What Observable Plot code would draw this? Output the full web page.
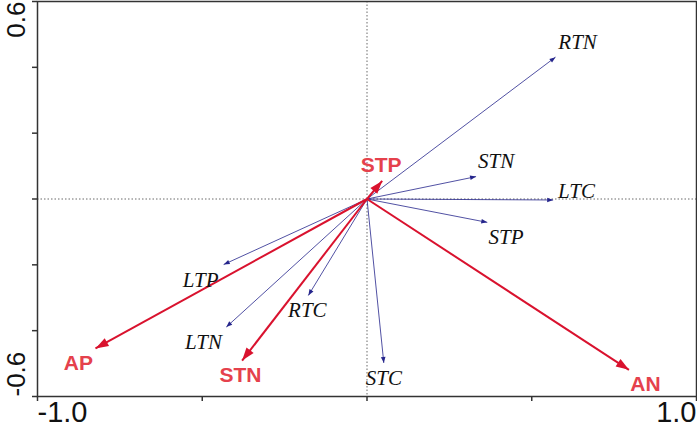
<!DOCTYPE html>
<html><head><meta charset="utf-8">
<script src="https://cdn.jsdelivr.net/npm/d3@7"></script>
<script src="https://cdn.jsdelivr.net/npm/@observablehq/plot@0.6"></script>
<style>body{margin:0;background:#fff;} svg{display:block;}</style>
</head><body><div id="chart"></div>
<script>
// Species (response) arrows
const speciesNames = ["RTN","STN","LTC","STP","LTP","RTC","LTN","STC"];
const speciesX = [0.572, 0.331, 0.565, 0.365, -0.435, -0.178, -0.427, 0.051];
const speciesY = [0.431, 0.068, -0.003, -0.071, -0.199, -0.293, -0.389, -0.498];
const speciesLabelX = [0.639, 0.392, 0.636, 0.422, -0.505, -0.181, -0.496, 0.051];
const speciesLabelY = [0.476, 0.114, 0.022, -0.115, -0.247, -0.338, -0.435, -0.544];
// Environmental arrows
const envNames = ["STP","AP","STN","AN"];
const envX = [0.046, -0.824, -0.379, 0.795];
const envY = [0.055, -0.454, -0.491, -0.519];
const envLabelX = [0.043, -0.876, -0.384, 0.845];
const envLabelY = [0.104, -0.499, -0.535, -0.562];
// Axes
const xTicks = [-1, -0.5, 0, 0.5, 1];
const yTicks = [-0.6, -0.4, -0.2, 0, 0.2, 0.4, 0.6];
const xLabelValues = [-1, 1];
const xLabelTexts = ["-1.0", "1.0"];
const yLabelValues = [-0.6, 0.6];
const yLabelTexts = ["-0.6", "0.6"];

const BLUE = "#25258c";
const RED = "#d9122e";
const RED_TEXT = "#e5414c";

const species = speciesNames.map((n, i) => ({name: n, x: speciesX[i], y: speciesY[i], lx: speciesLabelX[i], ly: speciesLabelY[i]}));
const env = envNames.map((n, i) => ({name: n, x: envX[i], y: envY[i], lx: envLabelX[i], ly: envLabelY[i]}));
const xLabels = xLabelValues.map((v, i) => ({v, t: xLabelTexts[i]}));
const yLabels = yLabelValues.map((v, i) => ({v, t: yLabelTexts[i]}));

const triangle = {
  draw(ctx, l, r) {
    ctx.moveTo(0, -l);
    ctx.lineTo(-r, 0);
    ctx.lineTo(r, 0);
    ctx.closePath();
  }
};
const angle = d => Math.atan2(d.x, d.y) * 180 / Math.PI;
const SANS = "'Liberation Sans', Arial, sans-serif";

const chart = Plot.plot({
  width: 697,
  height: 433,
  marginTop: 1,
  marginLeft: 37,
  marginRight: 1,
  marginBottom: 37,
  x: {domain: [-1, 1]},
  y: {domain: [-0.6, 0.6]},
  style: {background: "#fff"},
  marks: [
    Plot.ruleX([0], {stroke: "#444", strokeWidth: 0.8, strokeDasharray: "1.5,2"}),
    Plot.ruleY([0], {stroke: "#444", strokeWidth: 0.8, strokeDasharray: "1.5,2"}),
    Plot.link(species, {x1: () => 0, y1: () => 0, x2: "x", y2: "y", stroke: BLUE, strokeWidth: 0.8}),
    Plot.vector(species, {x: "x", y: "y", rotate: angle, length: 6, r: 2.3, anchor: "end", shape: triangle, fill: BLUE, stroke: "none"}),
    Plot.link(env, {x1: () => 0, y1: () => 0, x2: "x", y2: "y", stroke: RED, strokeWidth: 2}),
    Plot.vector(env, {x: "x", y: "y", rotate: angle, length: 13, r: 4.5, anchor: "end", shape: triangle, fill: RED, stroke: "none"}),
    Plot.text(species, {x: "lx", y: "ly", text: "name", fontFamily: "'Liberation Serif', 'Times New Roman', serif", fontStyle: "italic", fontSize: 21, fill: "#111"}),
    Plot.text(env, {x: "lx", y: "ly", text: "name", fontFamily: SANS, fontWeight: "bold", fontSize: 21, fill: RED_TEXT}),
    Plot.axisX(xTicks, {tickSize: 5, tickFormat: () => "", stroke: "#333", strokeWidth: 1.5}),
    Plot.axisY(yTicks, {tickSize: 5, tickFormat: () => "", stroke: "#333", strokeWidth: 1.5}),
    Plot.text(xLabels.filter(d => d.v < 0), {x: "v", text: "t", frameAnchor: "bottom", dy: 25, textAnchor: "start", fontFamily: SANS, fontSize: 29, fill: "#111"}),
    Plot.text(xLabels.filter(d => d.v > 0), {x: "v", text: "t", frameAnchor: "bottom", dy: 25, textAnchor: "end", fontFamily: SANS, fontSize: 29, fill: "#111"}),
    Plot.text(yLabels.filter(d => d.v < 0), {y: "v", text: "t", frameAnchor: "left", dx: -21, rotate: -90, textAnchor: "start", fontFamily: SANS, fontSize: 26, fill: "#111"}),
    Plot.text(yLabels.filter(d => d.v > 0), {y: "v", text: "t", frameAnchor: "left", dx: -21, rotate: -90, textAnchor: "end", fontFamily: SANS, fontSize: 26, fill: "#111"}),
    Plot.frame({stroke: "#333", strokeWidth: 1.5})
  ]
});
document.getElementById("chart").appendChild(chart);
</script>
</body></html>
